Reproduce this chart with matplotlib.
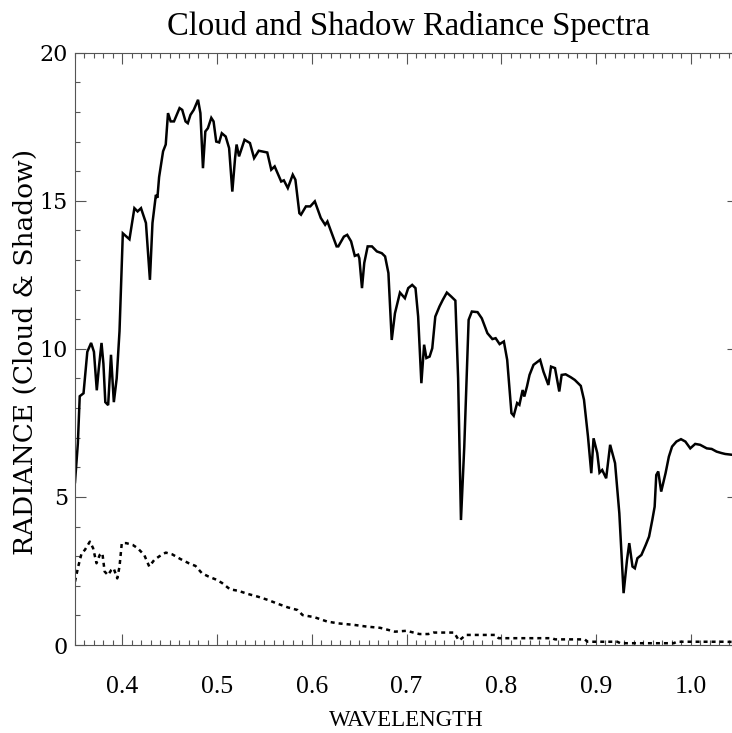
import matplotlib
matplotlib.use("Agg")
import matplotlib.pyplot as plt
from matplotlib.ticker import MultipleLocator, FormatStrFormatter

# Cloud (solid) radiance spectrum
cloud_wl = [0.350, 0.353, 0.355, 0.359, 0.363, 0.367, 0.370, 0.373, 0.375, 0.378,
            0.380, 0.382, 0.385, 0.388, 0.391, 0.394, 0.397, 0.4005, 0.4075, 0.4127,
            0.4161, 0.4197, 0.4249, 0.4291, 0.4318, 0.4354, 0.4370, 0.4388, 0.4430, 0.4458,
            0.4482, 0.4510, 0.4545, 0.4604, 0.4632, 0.4667, 0.4691, 0.4719, 0.4754, 0.4799,
            0.4824, 0.4851, 0.4876, 0.4903, 0.4939, 0.4963, 0.4991, 0.5022, 0.5050, 0.5091,
            0.5127, 0.5161, 0.5190, 0.5206, 0.5232, 0.5290, 0.5347, 0.5391, 0.5440, 0.5530,
            0.5572, 0.5608, 0.5677, 0.5705, 0.5747, 0.5799, 0.5827, 0.5869, 0.5886, 0.5938,
            0.5984, 0.6032, 0.6095, 0.6141, 0.6165, 0.6217, 0.6262, 0.6280, 0.6339, 0.6374,
            0.6415, 0.6454, 0.6489, 0.6502, 0.6530, 0.6554, 0.6590, 0.6635, 0.6687, 0.6739,
            0.6774, 0.6809, 0.6844, 0.6878, 0.6931, 0.6983, 0.7018, 0.7060, 0.7095, 0.7123,
            0.7157, 0.7186, 0.7210, 0.7244, 0.7272, 0.7304, 0.7348, 0.7384, 0.7426, 0.7471,
            0.7516, 0.7545, 0.7575, 0.7610, 0.7656, 0.7690, 0.7750, 0.7795, 0.7854, 0.7907,
            0.7941, 0.7983, 0.8028, 0.8063, 0.8108, 0.8132, 0.8168, 0.8192, 0.8226, 0.8244,
            0.8272, 0.8299, 0.8341, 0.8411, 0.8446, 0.8498, 0.8526, 0.8568, 0.8613, 0.8638,
            0.8680, 0.8735, 0.8777, 0.8811, 0.8840, 0.8874, 0.8916, 0.8951, 0.8975, 0.9014,
            0.9038, 0.9066, 0.9108, 0.9150, 0.9202, 0.9247, 0.9292, 0.9328, 0.9352, 0.9386,
            0.9411, 0.9438, 0.9480, 0.9526, 0.9561, 0.9595, 0.9620, 0.9637, 0.9658, 0.9689,
            0.9735, 0.9770, 0.9804, 0.9850, 0.9898, 0.9944, 0.9996, 1.0048, 1.0100, 1.0170,
            1.0222, 1.0274, 1.0327, 1.0365, 1.0500]
cloud_rad = [5.5, 6.8, 8.4, 8.5, 9.9, 10.2, 9.9, 8.6, 9.3, 10.2,
             9.5, 8.2, 8.1, 9.8, 8.2, 9.0, 10.6, 13.9, 13.7, 14.75,
             14.64, 14.75, 14.25, 12.33, 14.25, 15.2, 15.1, 15.8, 16.67, 16.9,
             17.96, 17.68, 17.68, 18.13, 18.07, 17.68, 17.62, 17.9, 18.07, 18.41,
             17.96, 16.1, 17.34, 17.45, 17.8, 17.68, 17.0, 16.97, 17.28, 17.17,
             16.78, 15.31, 16.44, 16.9, 16.5, 17.06, 16.95, 16.44, 16.69, 16.63,
             16.05, 16.16, 15.65, 15.69, 15.43, 15.88, 15.71, 14.58, 14.53, 14.81,
             14.81, 14.98, 14.42, 14.19, 14.3, 13.85, 13.46, 13.46, 13.79, 13.85,
             13.63, 13.14, 13.18, 13.06, 12.05, 12.9, 13.46, 13.46, 13.29, 13.23,
             13.12, 12.56, 10.3, 11.2, 11.9, 11.71, 12.05, 12.16, 12.05, 11.09,
             8.84, 10.14, 9.69, 9.74, 10.02, 11.09, 11.43, 11.66, 11.9, 11.77,
             11.63, 9.0, 4.22, 6.7, 10.98, 11.26, 11.24, 11.03, 10.53, 10.33,
             10.36, 10.16, 10.25, 9.63, 7.83, 7.74, 8.17, 8.11, 8.61, 8.39,
             8.73, 9.12, 9.46, 9.63, 9.23, 8.78, 9.4, 9.35, 8.56, 9.12,
             9.14, 9.04, 8.95, 8.84, 8.75, 8.28, 7.04, 5.8, 6.98, 6.48,
             5.82, 5.91, 5.63, 6.76, 6.14, 4.45, 1.75, 2.87, 3.44, 2.65,
             2.59, 2.93, 3.04, 3.38, 3.66, 4.22, 4.67, 5.74, 5.86, 5.18,
             5.8, 6.36, 6.7, 6.87, 6.95, 6.87, 6.64, 6.79, 6.76, 6.64,
             6.62, 6.53, 6.48, 6.45, 6.4]

# Shadow (dashed) radiance spectrum
shadow_wl = [0.350, 0.3534, 0.357, 0.3604, 0.3657, 0.3691, 0.3727, 0.3761, 0.3789, 0.3813,
             0.3848, 0.3883, 0.3908, 0.3946, 0.397, 0.3994, 0.404, 0.4109, 0.4161, 0.4231,
             0.4284, 0.4336, 0.4388, 0.4458, 0.4527, 0.4615, 0.4702, 0.4772, 0.4841, 0.4911,
             0.4981, 0.505, 0.5137, 0.5224, 0.5329, 0.5433, 0.5538, 0.5642, 0.5747, 0.5851,
             0.5903, 0.6026, 0.6165, 0.628, 0.6444, 0.6583, 0.6722, 0.6878, 0.700, 0.7136,
             0.723, 0.7283, 0.7502, 0.7554, 0.7628, 0.7941, 0.7972, 0.8537, 0.8568, 0.8881,
             0.8913, 0.9226, 0.9258, 0.9822, 0.9853, 1.0345, 1.050]
shadow_rad = [2.14, 2.65, 3.1, 3.21, 3.49, 3.27, 2.76, 3.04, 3.1, 2.48,
              2.36, 2.53, 2.59, 2.25, 2.65, 3.44, 3.44, 3.38, 3.27, 3.04,
              2.65, 2.87, 2.99, 3.12, 3.06, 2.9, 2.76, 2.67, 2.42, 2.31,
              2.22, 2.1, 1.88, 1.83, 1.72, 1.63, 1.52, 1.39, 1.27, 1.18,
              1.01, 0.94, 0.79, 0.73, 0.68, 0.62, 0.58, 0.45, 0.48, 0.37,
              0.37, 0.42, 0.42, 0.15, 0.34, 0.34, 0.23, 0.23, 0.19, 0.19,
              0.11, 0.11, 0.06, 0.06, 0.11, 0.11, 0.1]

title = "Cloud and Shadow Radiance Spectra"
xlabel = "WAVELENGTH"
ylabel = "RADIANCE (Cloud & Shadow)"

W, H = 732, 733
fig = plt.figure(figsize=(W / 100, H / 100), dpi=100)
ax = fig.add_axes([75 / W, (H - 645) / H, 663 / W, 592.3 / H])

ax.plot(cloud_wl, cloud_rad, color="black", lw=1.8, solid_joinstyle="miter")
ax.plot(shadow_wl, shadow_rad, color="black", lw=1.8, linestyle=(0, (1.6, 1.6)))

ax.set_xlim(0.35, 1.05)
ax.set_ylim(0, 20)
ax.xaxis.set_major_locator(MultipleLocator(0.1))
ax.xaxis.set_minor_locator(MultipleLocator(0.01))
ax.yaxis.set_major_locator(MultipleLocator(5))
ax.yaxis.set_minor_locator(MultipleLocator(1))
ax.xaxis.set_major_formatter(FormatStrFormatter("%.1f"))
ax.yaxis.set_major_formatter(FormatStrFormatter("%d"))

for s in ax.spines.values():
    s.set_color("#555555")
    s.set_linewidth(0.8)
ax.tick_params(which="both", direction="in", top=True, right=True, color="#555555", width=0.8)
ax.tick_params(which="major", length=8)
ax.tick_params(which="minor", length=3.5)
ax.tick_params(axis="x", which="major", pad=22, labelsize=18.5)
ax.tick_params(axis="y", which="major", pad=5, labelsize=16)
for lab in ax.get_xticklabels():
    lab.set_family("Liberation Serif")
for lab in ax.get_yticklabels():
    lab.set_family("DejaVu Serif")

ax.set_xlabel(xlabel, family="Liberation Serif", fontsize=16.5, labelpad=9)

fig.text(25 / W, 1 - 352 / H, ylabel, family="DejaVu Serif", fontsize=19,
         rotation=90, ha="center", va="center")

fig.text(408 / W, 1 - 27 / H, title, family="Liberation Serif", fontsize=23.5,
         ha="center", va="center")

fig.savefig("out.png", dpi=100)
